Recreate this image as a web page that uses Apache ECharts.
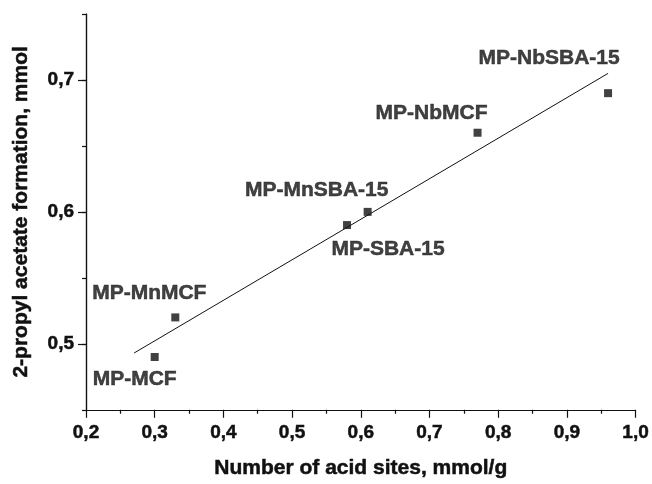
<!DOCTYPE html>
<html lang="en">

<head>
    <meta charset="UTF-8">
    <title>Acid sites vs 2-propyl acetate</title>
    <script src="https://cdn.jsdelivr.net/npm/echarts@6/dist/echarts.min.js"></script>
</head>

<body style="margin:0">
    <div id="main" style="width: 652px;height:484px;"></div>

    <script type="text/javascript">
        // data
        const samples = ['MP-MCF', 'MP-MnMCF', 'MP-SBA-15', 'MP-MnSBA-15', 'MP-NbMCF', 'MP-NbSBA-15'];
        const acidSites = [0.30, 0.33, 0.58, 0.61, 0.77, 0.96];
        const acetate = [0.49, 0.52, 0.59, 0.60, 0.66, 0.69];
        // linear fit drawn in the figure (end points)
        const fitX = [0.27, 0.96];
        const fitY = [0.493, 0.705];
        const yTicks = [0.5, 0.6, 0.7];

        // where each sample name sits relative to its marker
        const labelOffsets = [[-20, 22], [-26, -24], [41, 24], [-51, -22], [-46, -20], [-59, -35]];

        const ink = '#111';
        const font = 'Liberation Sans';
        const comma = v => v.toFixed(1).replace('.', ',');
        // y labels only on the tenths
        const tenths = v => Math.abs(v * 10 - Math.round(v * 10)) < 1e-6 ? comma(v) : '';
        // slight outline so the text looks as heavy as the print
        const heavy = { textBorderColor: ink, textBorderWidth: 0.5 };

        var myChart = echarts.init(document.getElementById('main'));

        const axisBase = {
            axisLine: { show: true, onZero: false, lineStyle: { color: ink, width: 1.2 } },
            splitLine: { show: false }
        };

        option = {
            animation: false,
            grid: { left: 86, right: 15, top: 14, bottom: 68 },
            xAxis: {
                ...axisBase,
                type: 'value',
                min: 0.2,
                max: 1.0,
                interval: 0.1,
                name: 'Number of acid sites, mmol/g',
                nameLocation: 'middle',
                nameGap: 48,
                nameTextStyle: { color: ink, fontFamily: font, fontWeight: 'bold', fontSize: 21, ...heavy },
                axisTick: { length: 8, lineStyle: { color: ink, width: 1.2 } },
                minorTick: { show: true, splitNumber: 2, length: 4, lineStyle: { color: ink, width: 1.2 } },
                axisLabel: {
                    margin: 14,
                    color: ink, fontFamily: font, fontWeight: 'bold', fontSize: 19, ...heavy,
                    formatter: comma
                }
            },
            yAxis: [
                {
                    ...axisBase,
                    type: 'value',
                    min: 0.45,
                    max: 0.75,
                    interval: 0.05,
                    name: '2-propyl acetate formation, mmol',
                    nameLocation: 'middle',
                    nameGap: 54,
                    nameTextStyle: { color: ink, fontFamily: font, fontWeight: 'bold', fontSize: 21, ...heavy },
                    axisTick: { length: 4, lineStyle: { color: ink, width: 1.2 } },
                    axisLabel: {
                        margin: 12,
                        color: ink, fontFamily: font, fontWeight: 'bold', fontSize: 19, ...heavy,
                        formatter: tenths
                    }
                },
                {
                    // longer ticks at the labelled values
                    ...axisBase,
                    type: 'value',
                    min: 0.45,
                    max: 0.75,
                    position: 'left',
                    axisTick: { customValues: yTicks, length: 8, lineStyle: { color: ink, width: 1.2 } },
                    axisLabel: { show: false }
                }
            ],
            series: [
                {
                    name: 'fit',
                    type: 'line',
                    data: fitX.map((x, i) => [x, fitY[i]]),
                    symbol: 'none',
                    lineStyle: { color: ink, width: 1 },
                    z: 1
                },
                {
                    name: 'samples',
                    type: 'scatter',
                    symbol: 'rect',
                    symbolSize: 8,
                    itemStyle: { color: ink },
                    z: 2,
                    data: samples.map((name, i) => ({
                        name: name,
                        value: [acidSites[i], acetate[i]],
                        label: { offset: labelOffsets[i] }
                    })),
                    label: {
                        show: true,
                        position: 'inside',
                        formatter: '{b}',
                        color: ink,
                        fontFamily: font,
                        fontWeight: 'bold',
                        fontSize: 21,
                        ...heavy
                    }
                }
            ]
        };

        myChart.setOption(option);
    </script>
</body>

</html>
